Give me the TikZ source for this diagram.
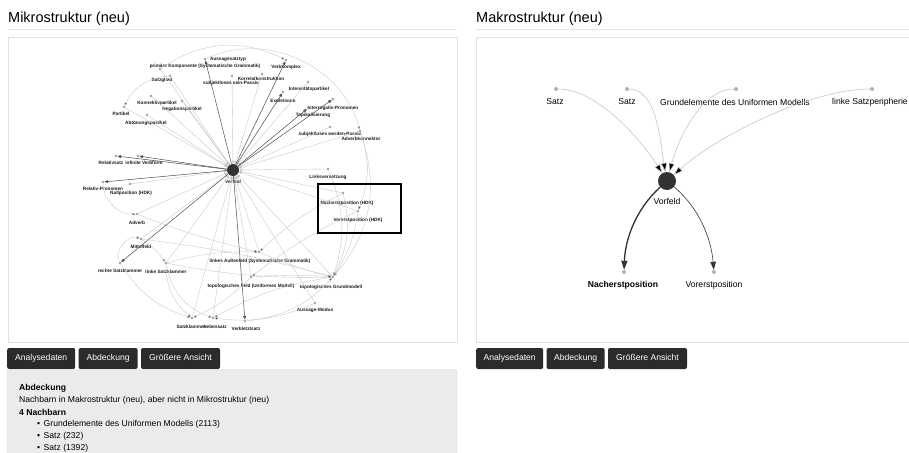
\documentclass[tikz,border=0pt]{standalone}
\usepackage{fontspec}
\setmainfont{Liberation Sans}
\usetikzlibrary{positioning, arrows.meta}
\definecolor{btngray}{HTML}{2B2B2B}
\definecolor{panelline}{HTML}{E2E2E2}
\definecolor{infogray}{HTML}{EBEBEB}
\tikzset{
x=1pt, y=1pt, % one unit is one pixel of the screenshot
dot/.style={circle, fill=gray!75, inner sep=0pt, minimum size=2.6pt}, % small node of the left graph
hub/.style={circle, fill=black!80, inner sep=0pt, minimum size=12pt}, % central node
tiny/.style={font=\fontsize{4.7}{5}\selectfont\bfseries, inner sep=0pt, text=black!90},
inedge/.style={draw=gray!45, line width=0.35pt, -{Triangle[length=3pt,width=2.4pt]}},
outedge/.style={draw=black!70, line width=0.5pt, -{Triangle[length=3.5pt,width=2.8pt]}},
arc/.style={draw=gray!45, line width=0.35pt, -{Triangle[length=3pt,width=2.4pt]}},
bigdot/.style={circle, fill=gray!60, inner sep=0pt, minimum size=4pt}, % node of the right graph
bighub/.style={circle, fill=black!80, inner sep=0pt, minimum size=18pt},
txt/.style={font=\fontsize{8.6}{10}\selectfont, inner sep=0pt},
btn/.style={fill=btngray, rounded corners=2pt, text=white, font=\fontsize{8.6}{10}\selectfont,
  minimum height=21pt, inner sep=0pt, text height=6.4pt, text depth=1.8pt},
}

\begin{document}
\begin{tikzpicture}
\useasboundingbox (0,0) rectangle (909,-452);
\clip (0,0) rectangle (909,-452);
\fill[white] (0,0) rectangle (909,-452);

% titles and panels
\node[font=\fontsize{14.5}{16}\selectfont, anchor=base west, inner sep=0pt] (t1) at (8,-23) {Mikrostruktur (neu)};
\node[font=\fontsize{14.5}{16}\selectfont, anchor=base west, inner sep=0pt] (t2) at (476,-23) {Makrostruktur (neu)};
\draw[panelline, line width=1pt] (8,-30) -- (457,-30) (476,-30) -- (915,-30);
\draw[panelline, line width=0.7pt] (8,-37) rectangle (457,-342);
\draw[panelline, line width=0.7pt] (476,-37) rectangle (915,-342);

% left graph: nodes
\foreach \n/\x/\y/\lx/\ly/\t in {
  ast/205/59/228/59/Aussagesatztyp,
  pk/160/69/205/66/primäre Komponente (Systematische Grammatik),
  sg/170/76/162/80/Satzglied,
  vk/286/60/286/67/Verbkomplex,
  kk/262/74/261/79/Korrelatkonstruktion,
  sp/232/76/231/83/subjektloses sein-Passiv,
  ip/308/82/309/89/Intensitätspartikel,
  ex/283/92/283/101/Expletivum,
  kp/151/96/157/103/Konnektivpartikel,
  np/182/101/182/109/Negationspartikel,
  pa/124/107/121/114/Partikel,
  ap/147/115/146/123/Abtönungspartikel,
  ipr/333/99/333/108/Interrogativ-Pronomen,
  to/308/108/313/115/Topikalisierung,
  swp/330/127/330/134/subjektloses werden-Passiv,
  ak/360/131/361/139/Adverbkonnektor,
  rs/116/156/111/163/Relativsatz,
  iv/138/156/144/163/infinite Verbform,
  lv/328/169/328/177/Linksversetzung,
  rp/103/182/103/189/Relativ-Pronomen,
  nup/130/184/131/193/Nullposition (HDK),
  nep/343/193/347/203/Nacherstposition (HDK),
  vep/358/211/358/220/Vorerstposition (HDK),
  adv/137/214/137/223/Adverb,
  mf/141/239/141/247/Mittelfeld,
  rsk/120/263/120/271/rechte Satzklammer,
  lsk/166/263/166/272/linke Satzklammer,
  laf/259/252/260/261/linkes Außenfeld (Systematische Grammatik),
  tf/251/277/251/286/topologisches Feld (Uniformes Modell),
  tg/333/277/331/287/topologisches Grundmodell,
  am/315/303/315/310/Aussage-Modus,
  sk/192/318/191/327/Satzklammer,
  ns/213/318/215/327/Nebensatz,
  vl/245/321/246/329/Verbletztsatz%
}{
  \node[dot] (\n) at (\x,-\y) {};
  \node[tiny] (\n-l) at (\lx,-\ly) {\t};
}
\node[hub] (V) at (233,-170) {};
\node[tiny] (V-l) at (233,-182) {Vorfeld};

% left graph: edges to and from Vorfeld
\foreach \a in {pk,sg,kk,sp,ip,kp,np,pa,ap,swp,ak,lv,nup,nep,vep,adv,mf,lsk,laf,tf,tg,am,sk,ns}
  \draw[inedge] (\a) -- (V);
\foreach \a in {ast,vk,ex,ipr,to,rs,iv,rp,rsk,vl}
  \draw[outedge] (V) -- (\a);

% left graph: other edges
\draw[arc]
  (pk) edge[bend left=30] (vk)
  (ast) edge[bend left=50] (ak)
  (ak) edge[bend left=30] (tg)
  (ak) edge[bend left=20] (vep)
  (sg) edge[bend right=30] (pa)
  (rp) edge[bend right=45] (adv)
  (rsk) edge[bend left=70] (mf)
  (mf) edge[bend left=10] (lsk)
  (rsk) edge[bend right=20] (sk)
  (lsk) edge[bend right=25] (sk)
  (lsk) edge[bend right=30] (ns)
  (lsk) edge[bend right=6] (tg)
  (lsk) edge[bend left=8] (laf)
  (mf) edge[bend left=4] (tg)
  (adv) edge[bend right=4] (laf)
  (tf) edge[bend left=10] (sk)
  (tg) edge[bend right=10] (ns)
  (am) edge[bend left=15] (ns)
  (vl) edge[bend right=20] (tg)
  (nep) edge[bend right=8] (laf)
  (vep) edge[bend right=6] (tf)
  (lv) edge[bend left=20] (tg)
  (nep) edge[bend left=20] (tg)
  (vep) edge[bend left=12] (tg)
  (laf) edge[bend right=5] (tg)
  (tf) edge[bend left=4] (tg);

% highlight box
\draw[black, line width=2.6pt] (318,-184) rectangle (401,-233);

% right graph
\node[bigdot] (r1) at (556,-89) {};
\node[txt] (r1-l) at (555,-102) {Satz};
\node[bigdot] (r2) at (627,-89) {};
\node[txt] (r2-l) at (627,-102) {Satz};
\node[bigdot] (r3) at (736,-89) {};
\node[txt] (r3-l) at (735,-102) {Grundelemente des Uniformen Modells};
\node[bigdot] (r4) at (872,-89) {};
\node[txt] (r4-l) at (870,-102) {linke Satzperipherie};
\node[bighub] (rv) at (667,-181) {};
\node[txt] (rv-l) at (667,-201) {Vorfeld};
\node[bigdot] (rn) at (624,-272) {};
\node[txt, font=\fontsize{8.6}{10}\selectfont\bfseries] (rn-l) at (623,-285) {Nacherstposition};
\node[bigdot] (re) at (714,-272) {};
\node[txt] (re-l) at (714,-285) {Vorerstposition};

\draw[draw=gray!45, line width=0.6pt, -{Triangle[length=9pt,width=6pt]}]
  (r1) edge[out=0, in=122, looseness=0.75] (rv)
  (r2) edge[out=0, in=100, looseness=0.8] (rv)
  (r3) edge[out=180, in=75, looseness=0.8] (rv)
  (r4) edge[out=180, in=42, looseness=0.7] (rv);
\draw[draw=black!80, line width=1.3pt, -{Triangle[length=9pt,width=6pt]}]
  (rv) to[out=222, in=88, looseness=0.9] (rn);
\draw[draw=black!80, line width=0.6pt, -{Triangle[length=8pt,width=5.5pt]}]
  (rv) to[out=-40, in=95, looseness=0.9] (re);

% buttons
\node[btn, anchor=west, minimum width=68pt] (la) at (7,-358.5) {Analysedaten};
\node[btn, minimum width=59pt, right=3pt of la] (lb) {Abdeckung};
\node[btn, minimum width=79pt, right=3pt of lb] (lc) {Größere Ansicht};
\node[btn, anchor=west, minimum width=67pt] (ra) at (476,-358.5) {Analysedaten};
\node[btn, minimum width=58pt, right=3pt of ra] (rb) {Abdeckung};
\node[btn, minimum width=79pt, right=3pt of rb] (rc) {Größere Ansicht};

% coverage box
\draw[fill=infogray, draw=gray!30, rounded corners=3pt] (7,-369.5) rectangle (457,-470);
\node[txt, anchor=west, font=\fontsize{8.6}{10}\selectfont\bfseries] (i1) at (19,-388) {Abdeckung};
\node[txt, anchor=west] (i2) at (19,-400) {Nachbarn in Makrostruktur (neu), aber nicht in Mikrostruktur (neu)};
\node[txt, anchor=west, font=\fontsize{8.6}{10}\selectfont\bfseries] (i3) at (19,-412) {4 Nachbarn};
\foreach \t [count=\i] in {Grundelemente des Uniformen Modells (2113), Satz (232), Satz (1392)}{
  \node[txt, anchor=west] (b\i) at (37,-412-12*\i) {\textbullet\hspace{3.5pt}\t};
}
\end{tikzpicture}
\end{document}
